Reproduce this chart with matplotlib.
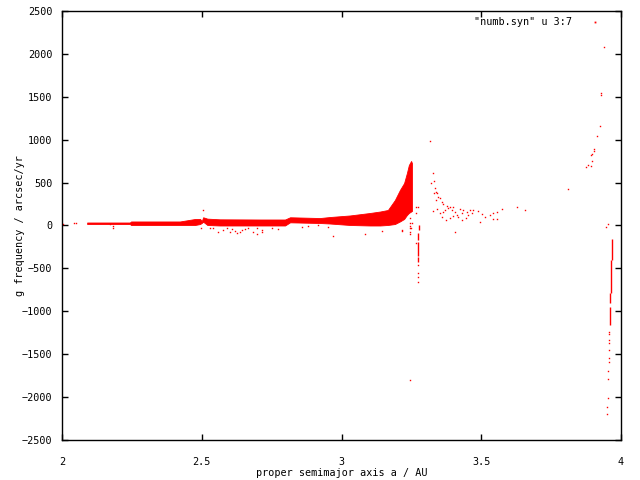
import matplotlib
matplotlib.use("Agg")
import matplotlib.pyplot as plt
from matplotlib.lines import Line2D

# dense main band: proper a, upper and lower edge of g (arcsec/yr)
band_a = [2.090, 2.243, 2.247, 2.422, 2.476, 2.494, 2.500, 2.505, 2.520, 2.565,
          2.708, 2.798, 2.816, 2.923, 2.959, 3.030, 3.102, 3.138, 3.166, 3.191,
          3.209, 3.224, 3.234, 3.241, 3.249, 3.252]
band_top = [35, 35, 47, 47, 76, 76, 50, 96, 80, 72,
            70, 70, 96, 87, 99, 117, 146, 163, 181, 297,
            414, 495, 612, 705, 752, 728]
band_bot = [17, 17, 6, 6, 6, 17, 30, 44, 6, 0,
            0, 0, 37, 29, 23, 6, 0, 0, 6, 17,
            47, 76, 122, 146, 163, 169]

# short vertical streaks of points: a, g top, g bottom
streak_a = [3.276, 3.275, 3.275, 3.274, 3.969, 3.965, 3.962, 3.962]
streak_top = [6, -87, -189, -364, -157, -402, -790, -946]
streak_bot = [-52, -169, -355, -422, -402, -790, -905, -1160]

# scattered single points
pts_a = [2.004, 2.043, 2.050, 2.181, 2.182, 2.171,
         2.497, 2.530, 2.541, 2.559, 2.577, 2.589, 2.601, 2.609, 2.619, 2.625,
         2.637, 2.643, 2.655, 2.667, 2.684, 2.697, 2.714, 2.750, 2.774, 2.858,
         2.881, 2.917, 2.953, 2.504, 2.494, 2.697, 2.714, 2.968, 3.084, 3.146,
         3.215, 3.245, 3.251, 3.249, 3.265, 3.268, 3.275,
         3.245, 3.245, 3.245, 3.246, 3.246, 3.215, 3.268,
         3.274, 3.274, 3.274, 3.272, 3.245,
         3.317, 3.328, 3.319, 3.332, 3.334, 3.338, 3.343, 3.331, 3.346, 3.352,
         3.338, 3.358, 3.364, 3.376, 3.328, 3.343, 3.352, 3.362, 3.370, 3.382,
         3.388, 3.394, 3.400, 3.406, 3.412, 3.418, 3.424, 3.430, 3.436, 3.448,
         3.454, 3.460, 3.466, 3.358, 3.374, 3.388, 3.400, 3.430, 3.472, 3.489,
         3.501, 3.496, 3.406, 3.531, 3.543, 3.543, 3.555, 3.555, 3.573, 3.627,
         3.657, 3.513, 3.445,
         3.940, 3.930, 3.930, 3.926, 3.915, 3.904, 3.904, 3.897, 3.894, 3.897,
         3.883, 3.876, 3.894, 3.810, 3.947, 3.955,
         3.958, 3.958, 3.958, 3.958, 3.958, 3.958, 3.957, 3.955, 3.955, 3.955,
         3.951, 3.951]
pts_g = [17, 29, 29, -2, -26, 17,
         -26, -33, -33, -72, -52, -33, -79, -41, -64, -91,
         -72, -52, -41, -33, -72, -99, -72, -33, -41, -14,
         -2, 6, -14, 181, 64, -33, -52, -122, -99, -61,
         -61, 84, 26, -33, 142, 219, 219,
         26, -2, -33, -72, -99, -52, -207,
         -460, -554, -600, -658, -1801,
         985, 608, 492, 519, 434, 394, 375, 375, 336, 317,
         297, 277, 251, 227, 169, 192, 142, 161, 181, 200,
         219, 181, 212, 161, 122, 96, 196, 149, 181, 161,
         122, 181, 149, 96, 64, 84, 111, 64, 181, 173,
         134, 44, -72, 122, 142, 72, 161, 72, 189, 212,
         181, 96, 84,
         2077, 1544, 1524, 1156, 1043, 888, 868, 830, 818, 748,
         701, 678, 693, 422, -14, 14,
         -1238, -1265, -1335, -1369, -1451, -1544, -1587, -1692, -1789, -2010,
         -2112, -2200]

x_ticks = [2, 2.5, 3, 3.5, 4]
x_labels = ["2", "2.5", "3", "3.5", "4"]
y_ticks = list(range(-2500, 2501, 500))

plt.rcParams['font.family'] = ['DejaVu Sans Mono']
plt.rcParams['font.size'] = 7.3

fig = plt.figure(figsize=(6.4, 4.8), dpi=100)
ax = fig.add_axes([62 / 640, 40 / 480, 559 / 640, 429 / 480])

red = '#ff0000'
ax.fill_between(band_a, band_bot, band_top, color=red, lw=0.6, edgecolor=red)
ax.vlines(streak_a, streak_bot, streak_top, color=red, lw=1.0)
ax.plot(pts_a, pts_g, ls='none', marker='s', ms=1.0, mew=0, color=red)

ax.set_xlim(2, 4)
ax.set_ylim(-2500, 2500)
ax.set_xticks(x_ticks)
ax.set_xticklabels(x_labels)
ax.set_yticks(y_ticks)
ax.tick_params(direction='in', length=4, width=1, top=True, right=True)
ax.tick_params(axis='x', pad=12)
ax.tick_params(axis='y', pad=7)
for s in ax.spines.values():
    s.set_linewidth(1)

ax.set_xlabel("proper semimajor axis a / AU", va='center')
ax.xaxis.set_label_coords(0.5, -33 / 429)
ax.set_ylabel("g frequency / arcsec/yr", va='center')
ax.yaxis.set_label_coords(-42 / 559, 0.5)

handle = Line2D([], [], ls='none', marker='s', ms=1.3, mew=0, color=red,
                label='"numb.syn" u 3:7')
ax.legend(handles=[handle], loc='upper right', frameon=False, markerfirst=False,
          handlelength=2.5, handletextpad=1.0, borderaxespad=0.3,
          bbox_to_anchor=(1 - 6 / 559, 1 + 1 / 429))

fig.savefig("out.png", dpi=100)
